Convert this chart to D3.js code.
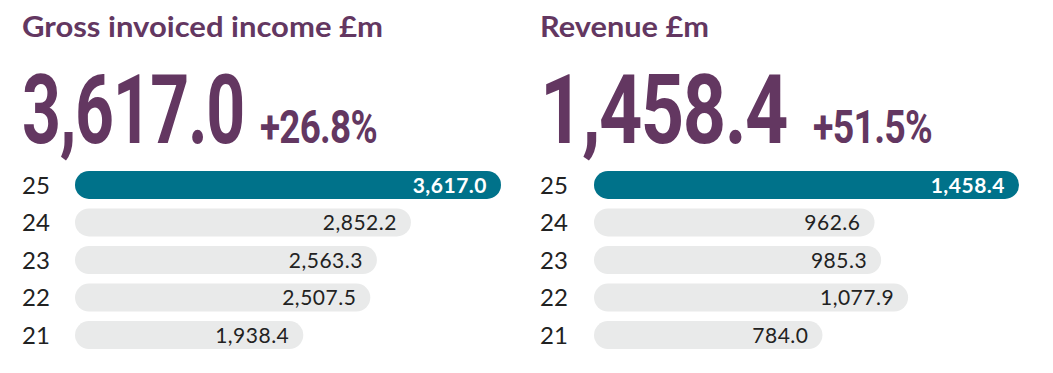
<!DOCTYPE html>
<html>
<head>
<meta charset="utf-8">
<script src="https://cdn.jsdelivr.net/npm/d3@7"></script>
<style>
  body { margin: 0; background: #fff; }
  svg { display: block; }
</style>
</head>
<body>
<script>
var years = ['25', '24', '23', '22', '21'];
var grossValues = [3617.0, 2852.2, 2563.3, 2507.5, 1938.4];
var revenueValues = [1458.4, 962.6, 985.3, 1077.9, 784.0];
var titles = ['Gross invoiced income £m', 'Revenue £m'];
var headlines = ['3,617.0', '1,458.4'];
var changes = ['+26.8%', '+51.5%'];

var purple = '#633761';
var teal = '#00728a';
var grey = '#e9eaea';

var width = 1053, height = 373;

var svg = d3.select('body').append('svg')
    .attr('width', width)
    .attr('height', height);

var fmt = d3.format(',.1f');

// panel layout: left edge of text, left edge of bars
var panels = [
    { x: 22, barX: 75, barW: 426, values: grossValues, title: titles[0], head: headlines[0], change: changes[0],
      titleW: 361, headW: 222, changeX: 260, changeW: 117 },
    { x: 540, barX: 594, barW: 425, values: revenueValues, title: titles[1], head: headlines[1], change: changes[1],
      titleW: 169, headW: 247, changeX: 813, changeW: 119 }
];

var y = d3.scaleBand()
    .domain(years)
    .range([171, 349])
    .paddingInner(0.255)
    .paddingOuter(0);

// squeeze a text horizontally so it fills a given width (condensed look)
function condensed(g, str, x, yPos, size, w) {
    var t = g.append('text')
        .attr('fill', purple)
        .style('font-family', 'Roboto, sans-serif')
        .style('font-weight', 700)
        .style('font-size', size + 'px')
        .style('letter-spacing', '-0.02em')
        .text(str);
    var len = t.node().getComputedTextLength();
    t.attr('transform', 'translate(' + x + ',' + yPos + ') scale(' + (w / len) + ',1)');
    return t;
}

panels.forEach(function(p) {
    var g = svg.append('g');

    g.append('text')
        .attr('x', p.x)
        .attr('y', 37)
        .attr('fill', purple)
        .style('font-family', 'Lato, sans-serif')
        .style('font-weight', 700)
        .style('font-size', '28px')
        .attr('textLength', p.titleW)
        .attr('lengthAdjust', 'spacingAndGlyphs')
        .text(p.title);

    condensed(g, p.head, p.x, 143, 96, p.headW);
    condensed(g, p.change, p.changeX, 143, 46, p.changeW);

    var x = d3.scaleLinear()
        .domain([0, d3.max(p.values)])
        .range([p.barX, p.barX + p.barW]);

    var rows = g.selectAll('g.row')
        .data(years.map(function(yr, i) { return { year: yr, value: p.values[i], first: i === 0 }; }))
        .enter().append('g')
            .attr('class', 'row');

    rows.append('rect')
        .attr('x', p.barX)
        .attr('y', function(d) { return y(d.year); })
        .attr('width', function(d) { return x(d.value) - p.barX; })
        .attr('height', y.bandwidth())
        .attr('rx', y.bandwidth() / 2)
        .attr('fill', function(d) { return d.first ? teal : grey; });

    rows.append('text')
        .attr('x', p.x)
        .attr('y', function(d) { return y(d.year) + y.bandwidth() / 2; })
        .attr('dy', '0.36em')
        .attr('fill', '#222')
        .style('font-family', 'Lato, sans-serif')
        .style('font-size', '24px')
        .text(function(d) { return d.year; });

    rows.append('text')
        .attr('x', function(d) { return x(d.value) - 14; })
        .attr('y', function(d) { return y(d.year) + y.bandwidth() / 2; })
        .attr('dy', '0.36em')
        .attr('text-anchor', 'end')
        .attr('fill', function(d) { return d.first ? '#fff' : '#222'; })
        .style('font-family', 'Lato, sans-serif')
        .style('font-weight', function(d) { return d.first ? 700 : 400; })
        .style('font-size', '21px')
        .style('letter-spacing', '0.5px')
        .text(function(d) { return fmt(d.value); });
});
</script>
</body>
</html>
